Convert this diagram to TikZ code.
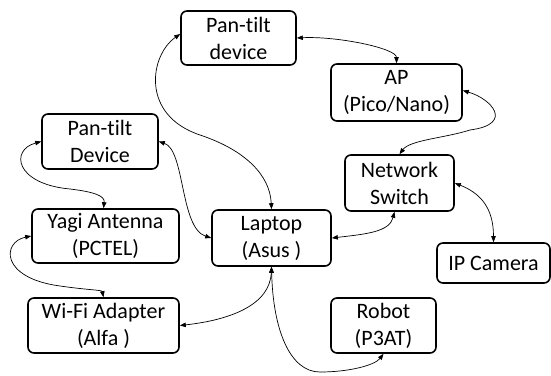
\documentclass[tikz,border=0pt]{standalone}
\usepackage{fontspec}
\setmainfont[Ligatures={NoCommon}]{Carlito}
\usetikzlibrary{arrows.meta}
\tikzset{
  box/.style={draw, line width=1.6pt, rounded corners=6pt, align=center, inner sep=0pt,
    font=\fontsize{22}{27}\selectfont},
  link/.style={line width=0.7pt, {Triangle[length=6pt,width=4.5pt]}-{Triangle[length=6pt,width=4.5pt]}}
}
\begin{document}
\begin{tikzpicture}[x=1pt,y=-1pt]
\useasboundingbox (0,0) rectangle (551,375);
\node[box, minimum width=115pt, minimum height=54pt] (pt1) at (238.5,38) {Pan-tilt\\device};
\node[box, minimum width=131pt, minimum height=57pt] (ap) at (396.5,92.5) {AP\\(Pico/Nano)};
\node[box, minimum width=109pt, minimum height=56pt] (sw) at (399.5,183) {Network\\Switch};
\node[box, minimum width=116pt, minimum height=55pt] (pt2) at (100,141.5) {Pan-tilt\\Device};
\node[box, minimum width=147pt, minimum height=54pt] (yagi) at (105.5,236) {Yagi Antenna\\(PCTEL)};
\node[box, minimum width=151pt, minimum height=55pt] (wifi) at (103.5,325.5) {Wi-Fi Adapter\\(Alfa )};
\node[box, minimum width=119pt, minimum height=56pt] (lap) at (271.5,238) {Laptop\\(Asus )};
\node[box, minimum width=113pt, minimum height=40pt] (cam) at (493.5,263) {IP Camera};
\node[box, minimum width=105pt, minimum height=55pt] (rob) at (383.5,325.5) {Robot\\(P3AT)};

\draw[link] (pt1.east) .. controls +(40,-2) and +(0,-15) .. (ap.north);
\draw[link] ([yshift=2pt]ap.east) .. controls +(28,8) and +(45,-6) .. (470,130)
   .. controls (445,138) and (410,140) .. (sw.north);
\draw[link] (sw.east) .. controls +(25,10) and +(0,-35) .. (cam.north);
\draw[link] (lap.east) .. controls +(35,-4) and +(-5,20) .. ([xshift=-5pt]sw.south);
\draw[link] ([yshift=4pt]pt1.west) .. controls (150,55) and (140,115) .. (200,135)
   .. controls (245,150) and (270,175) .. (lap.north);
\draw[link] (pt2.east) .. controls (185,150) and (180,228) .. (lap.west);
\draw[link] (pt2.west) .. controls (10,150) and (15,184) .. (70,189)
   .. controls (95,192) and (105,196) .. ([xshift=-2pt]yagi.north);
\draw[link] (yagi.west) .. controls (2,242) and (0,278) .. (60,286)
   .. controls (88,290) and (102,290) .. (wifi.north);
\draw[link] (wifi.east) .. controls (230,320) and (270,305) .. (lap.south);
\draw[link] (lap.south) .. controls (273,330) and (290,372) .. (320,372)
   .. controls (350,372) and (375,365) .. (rob.south);
\end{tikzpicture}
\end{document}
